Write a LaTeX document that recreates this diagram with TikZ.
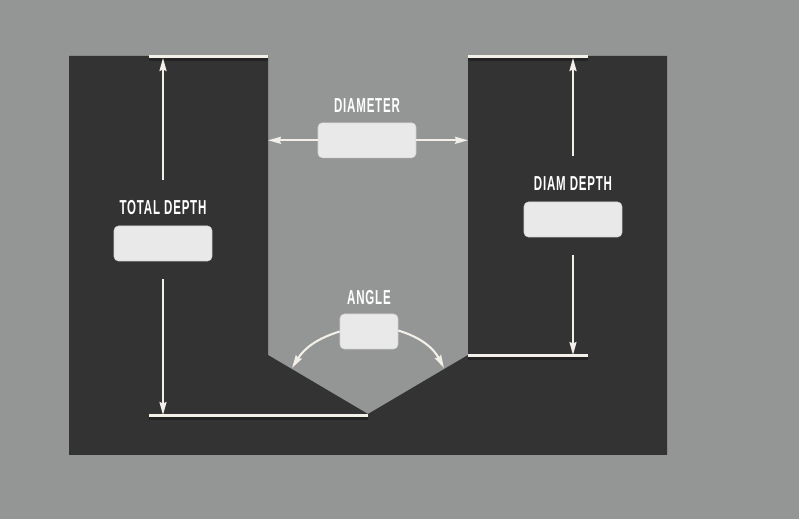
\documentclass[tikz,border=0pt]{standalone}
\usepackage{fontspec}
\usetikzlibrary{arrows.meta, positioning, calc}
\newfontfamily\labelfont[FakeStretch=0.57, LetterSpace=4]{Liberation Sans Bold}
\definecolor{bgGray}{HTML}{949695}
\definecolor{blockDark}{HTML}{333333}
\definecolor{boxFill}{HTML}{E9E9E9}
\definecolor{lineCream}{HTML}{F3EFE9}
\tikzset{
    valuebox/.style={draw=boxFill!80!gray, line width=.3pt, fill=boxFill, rounded corners=2.5pt, minimum width=1.96cm, minimum height=.7cm, inner sep=0pt},
    boxlabel/.style={text=white, font=\labelfont\fontsize{11.5}{12}\selectfont, inner sep=0pt},
    tick/.style={draw=lineCream, line width=1.7pt, preaction={draw=black, draw opacity=.3, line width=2pt, transform canvas={yshift=-1.2pt}}},
    dimarrow/.style={draw=lineCream, line width=1.2pt, -{Stealth[length=.26cm,width=.14cm,inset=.03cm]}}
}
\begin{document}
\begin{tikzpicture}[x=.02cm, y=-.02cm, node distance=.18cm]
                \useasboundingbox[fill=bgGray] (0,0) rectangle (799,519);
                \fill[blockDark] (69,56) -- (268,56) -- (268,355) -- (368,414) -- (468,355) -- (468,56) -- (667,56) -- (667,455) -- (69,455) -- cycle;
                % value boxes
                \node[valuebox] (diameterBox) at (367,140.3) {};
                \node[valuebox] (diamDepthBox) at (573,219.5) {};
                \node[valuebox] (totalDepthBox) at (163,243.5) {};
                \node[valuebox, minimum width=1.16cm] (angleBox) at (369,331.5) {};
                \node[boxlabel] (diameterLabel) [above=.19cm of diameterBox] {DIAMETER};
                \node[boxlabel] (diamDepthLabel) [above=.22cm of diamDepthBox] {DIAM DEPTH};
                \node[boxlabel] (totalDepthLabel) [above=.21cm of totalDepthBox] {TOTAL DEPTH};
                \node[boxlabel] (angleLabel) [above=of angleBox] {ANGLE};
                % end points
                \coordinate (totalTopL) at (149,57);
                \coordinate (totalTopR) at (268,57);
                \coordinate (totalBotL) at (149,416);
                \coordinate (totalBotR) at (368,416);
                \coordinate (diamTopL) at (468,57);
                \coordinate (diamTopR) at (588,57);
                \coordinate (diamBotL) at (468,356);
                \coordinate (diamBotR) at (588,356);
                \coordinate (totalUpStart) at (163,180);
                \coordinate (totalUpEnd) at (163,58);
                \coordinate (totalDownStart) at (163,279);
                \coordinate (totalDownEnd) at (163,415);
                \coordinate (diamUpStart) at (573,156);
                \coordinate (diamUpEnd) at (573,58);
                \coordinate (diamDownStart) at (573,255);
                \coordinate (diamDownEnd) at (573,355);
                \coordinate (wallL) at (268,140.3);
                \coordinate (wallR) at (468,140.3);
                \coordinate (coneL) at (292,368);
                \coordinate (coneR) at (444,368);
                % ticks
                \draw[tick] (totalTopL) -- (totalTopR);
                \draw[tick] (totalBotL) -- (totalBotR);
                \draw[tick] (diamTopL) -- (diamTopR);
                \draw[tick] (diamBotL) -- (diamBotR);
                % arrows
                \draw[dimarrow] (totalUpStart) -- (totalUpEnd);
                \draw[dimarrow] (totalDownStart) -- (totalDownEnd);
                \draw[dimarrow] (diamUpStart) -- (diamUpEnd);
                \draw[dimarrow] (diamDownStart) -- (diamDownEnd);
                \draw[dimarrow] (diameterBox.west) -- (wallL);
                \draw[dimarrow] (diameterBox.east) -- (wallR);
                \draw[dimarrow] (angleBox.west) to[out=197, in=58] (coneL);
                \draw[dimarrow] ([yshift=.02cm]angleBox.east) to[out=-17, in=118] (coneR);
\end{tikzpicture}
\end{document}
